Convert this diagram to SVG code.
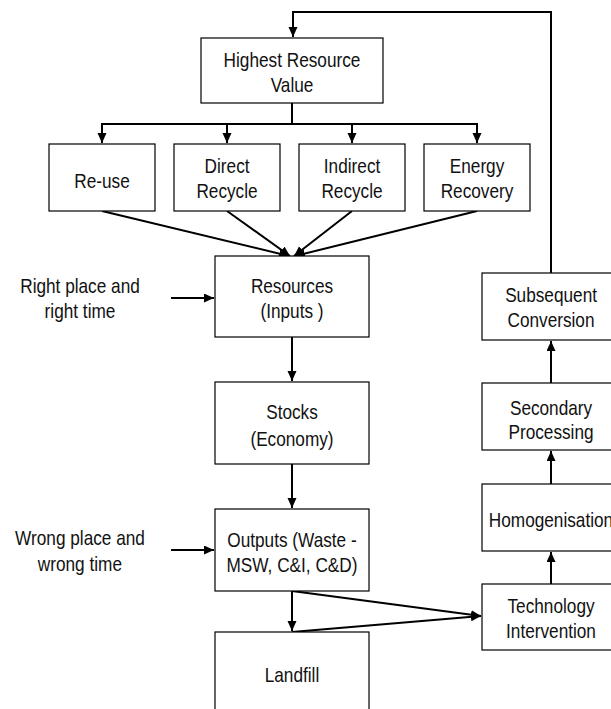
<svg xmlns="http://www.w3.org/2000/svg" width="611" height="709" viewBox="0 0 611 709">
  <style>
    .box { fill: #ffffff; stroke: #000000; stroke-width: 1.2; }
    /* narrow sans look: condense each label around its own centre */
    .lbl { font-family: 'Liberation Sans', Arial, sans-serif; font-size: 21px; fill: #111111; text-anchor: middle;
           transform-box: fill-box; transform-origin: center; transform: scaleX(0.82); }
    .wire { fill: none; stroke: #000000; stroke-width: 2; }
    .arr { marker-end: url(#head); }
  </style>
  <defs>
    <marker id="head" markerUnits="userSpaceOnUse" markerWidth="11" markerHeight="10" refX="10" refY="4.5" orient="auto">
      <path d="M0,0 L10,4.5 L0,9 z" fill="#000000"/>
    </marker>
  </defs>
  <rect width="611" height="709" fill="#ffffff"/>

  <!-- connectors -->
  <g id="connectors">
    <polyline class="wire arr" points="551,273 551,12 293,12 293,37"/>
    <line class="wire" x1="292" y1="103" x2="292" y2="124"/>
    <line class="wire" x1="101" y1="124" x2="478" y2="124"/>
    <line class="wire arr" x1="102" y1="124" x2="102" y2="143"/>
    <line class="wire arr" x1="227" y1="124" x2="227" y2="143"/>
    <line class="wire arr" x1="352" y1="124" x2="352" y2="143"/>
    <line class="wire arr" x1="477" y1="124" x2="477" y2="143"/>
    <line class="wire arr" x1="102" y1="211" x2="289" y2="256"/>
    <line class="wire arr" x1="227" y1="211" x2="290" y2="256"/>
    <line class="wire arr" x1="352" y1="211" x2="294" y2="256"/>
    <line class="wire arr" x1="477" y1="211" x2="295" y2="256"/>
    <line class="wire arr" x1="171" y1="298" x2="214" y2="298"/>
    <line class="wire arr" x1="292" y1="337" x2="292" y2="381"/>
    <line class="wire arr" x1="292" y1="464" x2="292" y2="508"/>
    <line class="wire arr" x1="171" y1="550" x2="214" y2="550"/>
    <line class="wire arr" x1="292" y1="591" x2="292" y2="631"/>
    <line class="wire arr" x1="292" y1="591" x2="481" y2="616"/>
    <line class="wire arr" x1="292" y1="632" x2="481" y2="616"/>
    <line class="wire arr" x1="551" y1="584" x2="551" y2="552"/>
    <line class="wire arr" x1="551" y1="484" x2="551" y2="451"/>
    <line class="wire arr" x1="551" y1="383" x2="551" y2="341"/>
  </g>

  <g id="highest-resource-value">
    <rect class="box" x="201" y="38" width="182" height="65"/>
    <text class="lbl" x="292" y="67">Highest Resource</text>
    <text class="lbl" x="292" y="92">Value</text>
  </g>
  <g id="re-use">
    <rect class="box" x="49" y="144" width="106" height="67"/>
    <text class="lbl" x="102" y="188">Re-use</text>
  </g>
  <g id="direct-recycle">
    <rect class="box" x="174" y="144" width="106" height="67"/>
    <text class="lbl" x="227" y="173">Direct</text>
    <text class="lbl" x="227" y="198">Recycle</text>
  </g>
  <g id="indirect-recycle">
    <rect class="box" x="299" y="144" width="106" height="67"/>
    <text class="lbl" x="352" y="173">Indirect</text>
    <text class="lbl" x="352" y="198">Recycle</text>
  </g>
  <g id="energy-recovery">
    <rect class="box" x="424" y="144" width="106" height="67"/>
    <text class="lbl" x="477" y="173">Energy</text>
    <text class="lbl" x="477" y="198">Recovery</text>
  </g>
  <g id="right-place">
    <text class="lbl" x="80" y="293">Right place and</text>
    <text class="lbl" x="80" y="318">right time</text>
  </g>
  <g id="resources">
    <rect class="box" x="215" y="256" width="154" height="81"/>
    <text class="lbl" x="292" y="293">Resources</text>
    <text class="lbl" x="292" y="318">(Inputs )</text>
  </g>
  <g id="stocks">
    <rect class="box" x="215" y="382" width="154" height="82"/>
    <text class="lbl" x="292" y="419">Stocks</text>
    <text class="lbl" x="292" y="446">(Economy)</text>
  </g>
  <g id="wrong-place">
    <text class="lbl" x="80" y="545">Wrong place and</text>
    <text class="lbl" x="80" y="571">wrong time</text>
  </g>
  <g id="outputs">
    <rect class="box" x="215" y="509" width="154" height="82"/>
    <text class="lbl" x="292" y="547">Outputs (Waste -</text>
    <text class="lbl" x="292" y="572">MSW, C&amp;I, C&amp;D)</text>
  </g>
  <g id="landfill">
    <rect class="box" x="215" y="632" width="154" height="84"/>
    <text class="lbl" x="292" y="682">Landfill</text>
  </g>
  <g id="subsequent-conversion">
    <rect class="box" x="482" y="273" width="138" height="67"/>
    <text class="lbl" x="551" y="302">Subsequent</text>
    <text class="lbl" x="551" y="327">Conversion</text>
  </g>
  <g id="secondary-processing">
    <rect class="box" x="482" y="383" width="138" height="67"/>
    <text class="lbl" x="551" y="415">Secondary</text>
    <text class="lbl" x="551" y="439">Processing</text>
  </g>
  <g id="homogenisation">
    <rect class="box" x="482" y="484" width="138" height="67"/>
    <text class="lbl" x="551" y="527">Homogenisation</text>
  </g>
  <g id="technology-intervention">
    <rect class="box" x="482" y="584" width="138" height="66"/>
    <text class="lbl" x="551" y="613">Technology</text>
    <text class="lbl" x="551" y="638">Intervention</text>
  </g>
</svg>
